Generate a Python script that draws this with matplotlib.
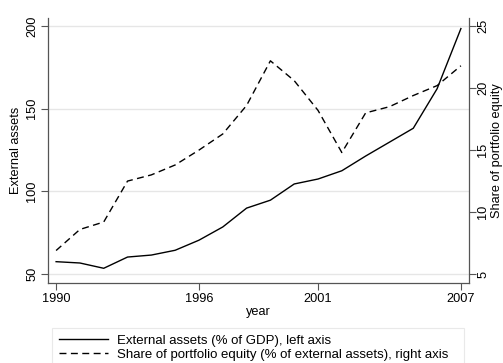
import matplotlib
matplotlib.use("Agg")
import matplotlib.pyplot as plt
from matplotlib.lines import Line2D

plt.rcParams['font.family'] = ['Liberation Sans', 'DejaVu Sans']

years = list(range(1990, 2008))
# External assets, % of GDP (left axis)
ext_assets = [57.5, 56.7, 53.5, 60.3, 61.5, 64.4, 70.5, 78.5, 89.9, 94.7,
              104.5, 107.5, 112.5, 121.4, 129.8, 138.2, 162.1, 198.5]
# Share of portfolio equity, % of external assets (right axis)
equity_share = [6.9, 8.6, 9.2, 12.5, 13.0, 13.8, 15.0, 16.3, 18.6, 22.2,
                20.6, 18.2, 14.8, 18.0, 18.5, 19.4, 20.2, 21.8]

x_ticks = [1990, 1996, 2001, 2007]
left_ticks = [50, 100, 150, 200]
right_ticks = [5, 10, 15, 20, 25]

fig = plt.figure(figsize=(5.03, 3.63), dpi=100)
ax = fig.add_axes([48 / 503, 1 - 283 / 363, 421 / 503, 265 / 363])
ax2 = ax.twinx()

fs = 9.2
leg_fs = 9.5
axis_col = '#555555'
dash = (5, 3.2)

ax.set_xlim(1989.66, 2007.34)
ax.set_ylim(44.6, 204.9)
ax2.set_ylim(5 + (44.6 - 50) / 7.5, 5 + (204.9 - 50) / 7.5)

for y in left_ticks:
    ax.axhline(y, color='#e6e6e6', lw=1.0, zorder=0)

ax.plot(years, ext_assets, color='black', lw=1.0, zorder=3)
ax2.plot(years, equity_share, color='black', lw=1.0, dashes=dash, zorder=3)

ax.set_xticks(x_ticks)
ax.set_xticklabels([str(t) for t in x_ticks], fontsize=fs)
ax.set_yticks(left_ticks)
ax.set_yticklabels([str(t) for t in left_ticks], fontsize=fs, rotation=90, va='center')
ax2.set_yticks(right_ticks)
ax2.set_yticklabels([str(t) for t in right_ticks], fontsize=fs, rotation=90, va='center')

ax.set_xlabel('year', fontsize=fs, labelpad=1)
ax.set_ylabel('External assets', fontsize=fs, labelpad=3)
ax2.set_ylabel('Share of portfolio equity', fontsize=fs, labelpad=1)

for a in (ax, ax2):
    a.spines['top'].set_visible(False)
    for s in ('left', 'right', 'bottom'):
        a.spines[s].set_color(axis_col)
        a.spines[s].set_linewidth(0.9)
    a.tick_params(direction='out', length=5, width=0.8, color=axis_col, pad=2)
ax2.tick_params(pad=1)
ax.spines['right'].set_visible(False)
ax2.spines['left'].set_visible(False)
ax2.spines['bottom'].set_visible(False)

handles = [Line2D([], [], color='black', lw=1.0),
           Line2D([], [], color='black', lw=1.0, dashes=dash)]
labels = ['External assets (% of GDP), left axis',
          'Share of portfolio equity (% of external assets), right axis']
leg = fig.legend(handles, labels, loc='upper left',
                 bbox_to_anchor=(52 / 503, 1 - 328 / 363 - 0.01, 412 / 503, 0.01),
                 mode='expand', fontsize=leg_fs, frameon=True, fancybox=False,
                 handlelength=3.75, handletextpad=0.68, labelspacing=0.12,
                 borderpad=0.5, borderaxespad=0)
leg.get_frame().set_edgecolor('#e4e4e4')
leg.get_frame().set_linewidth(0.8)

fig.savefig('out.png', dpi=100, facecolor='white')
